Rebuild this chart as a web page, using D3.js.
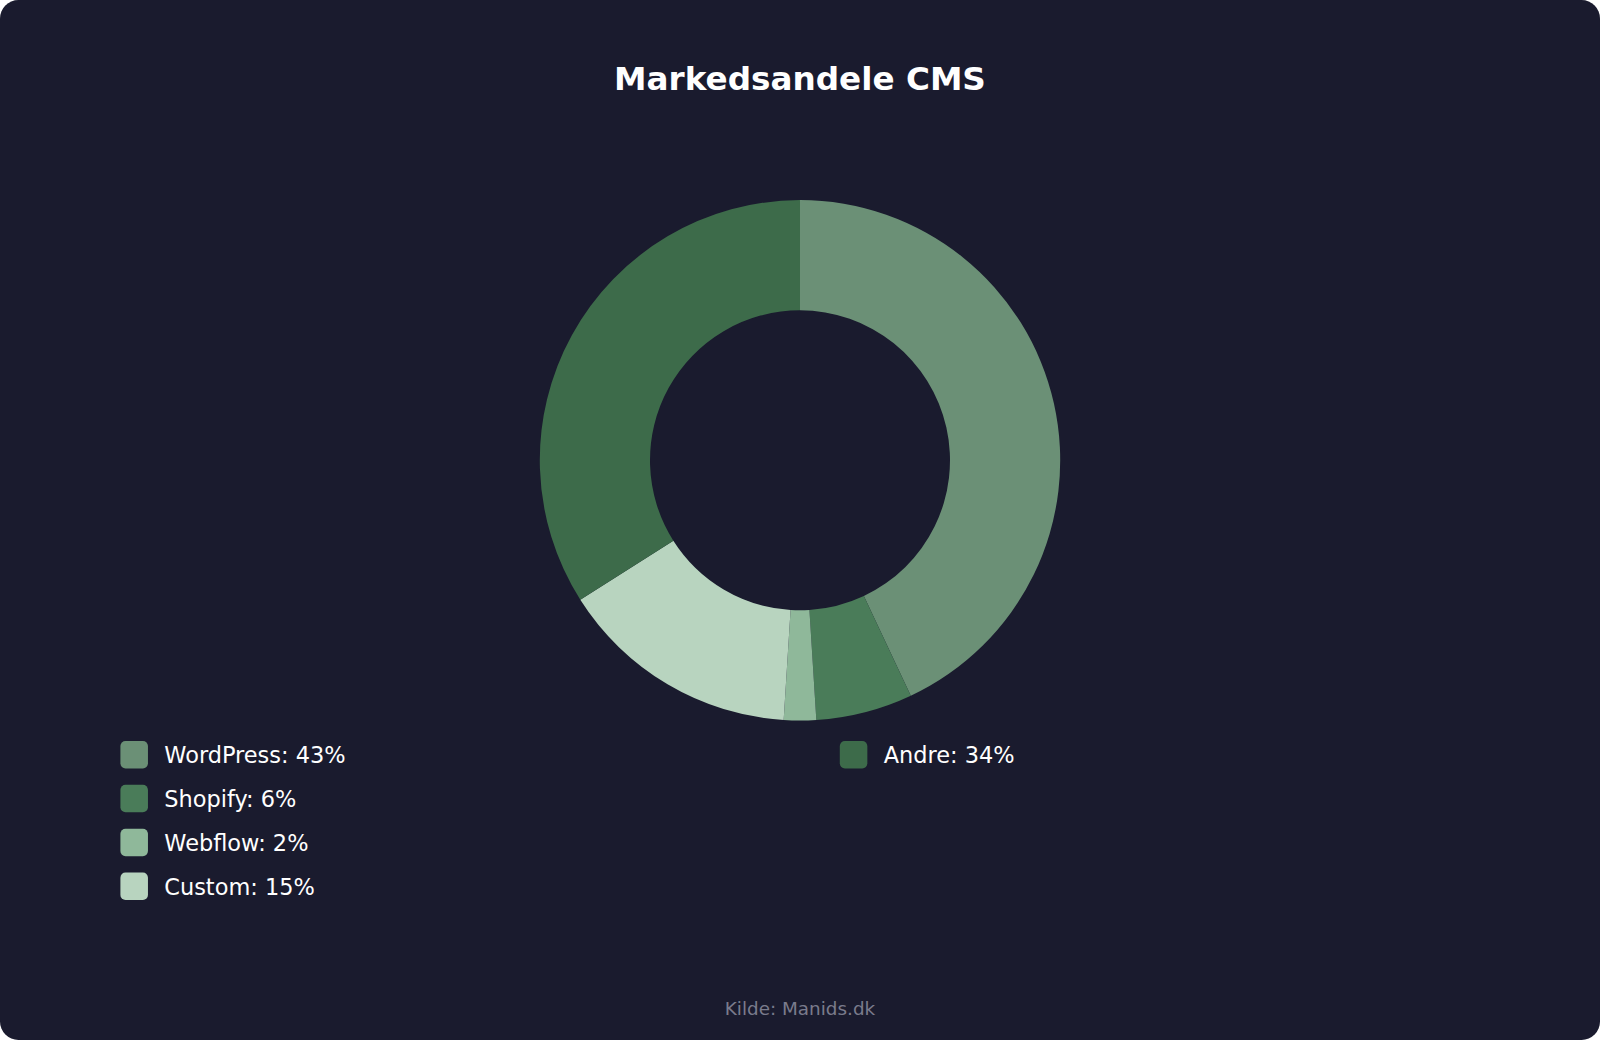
<!DOCTYPE html>
<html><head><meta charset="utf-8">
<script src="https://cdn.jsdelivr.net/npm/d3@7"></script>
<style>html,body{margin:0;padding:0;background:#fff;overflow:hidden}</style>
</head><body>
<svg id="c" width="1600" height="1040" viewBox="0 0 1568 1019"></svg>
<script>
const categories = ["WordPress","Shopify","Webflow","Custom","Andre"];
const values = [43,6,2,15,34];
const colors = ["#6b9076","#4a7c59","#8fb89a","#b8d4bf","#3d6b4a"];
const font = "DejaVu Sans, sans-serif";
const svg = d3.select("#c");
svg.append("rect").attr("width",1568).attr("height",1019).attr("rx",18).attr("fill","#1a1b2e");
svg.append("text").attr("x",784).attr("y",88).attr("text-anchor","middle").attr("fill","#fff")
  .attr("font-family",font).attr("font-weight","bold").attr("font-size",32).text("Markedsandele CMS");
const pie = d3.pie().sort(null).value(d=>d)(values);
const arc = d3.arc().innerRadius(147).outerRadius(255);
const g = svg.append("g").attr("transform","translate(784,451)");
g.selectAll("path").data(pie).join("path").attr("d",arc).attr("fill",(d,i)=>colors[i]);
const pos = [[118,726],[118,769],[118,812],[118,855],[823,726]];
categories.forEach((c,i)=>{
  const [x,y]=pos[i];
  svg.append("rect").attr("x",x).attr("y",y).attr("width",27).attr("height",27).attr("rx",5).attr("fill",colors[i]);
  svg.append("text").attr("x",x+43).attr("y",y+22).attr("fill","#fff").attr("font-family",font)
    .attr("font-size",22).text(`${c}: ${values[i]}%`);
});
svg.append("text").attr("x",784).attr("y",995).attr("text-anchor","middle").attr("fill","#7a7b8c")
  .attr("font-family",font).attr("font-size",18).text("Kilde: Manids.dk");
</script></body></html>
